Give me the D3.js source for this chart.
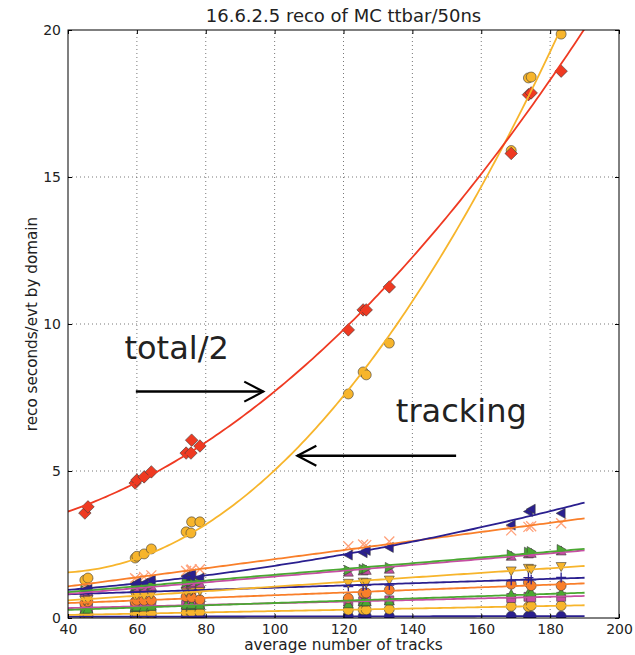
<!DOCTYPE html>
<html>
<head>
<meta charset="utf-8">
<script src="https://cdn.jsdelivr.net/npm/d3@7/dist/d3.min.js"></script>
<style>
  body { margin: 0; background: #fff; }
  text { font-family: "DejaVu Sans", sans-serif; fill: #222; }
</style>
</head>
<body>
<div id="chart"></div>
<script>
// average number of tracks for each sample
const tracks = [44.9, 45.8, 59.5, 60.0, 62.1, 64.2, 74.3, 75.7, 75.9, 78.3, 121.4, 125.7, 126.6, 133.3, 168.7, 173.7, 174.5, 183.2];

// reco seconds/evt per domain
const total2       = [3.57, 3.78, 4.59, 4.69, 4.80, 4.97, 5.61, 5.61, 6.05, 5.85, 9.80, 10.48, 10.48, 11.26, 15.80, 17.80, 17.86, 18.60];
const tracking     = [1.29, 1.36, 2.04, 2.10, 2.18, 2.35, 2.93, 2.89, 3.27, 3.27, 7.62, 8.37, 8.27, 9.35, 15.90, 18.37, 18.40, 19.86];
const navyLeft     = [0.95, 0.98, 1.15, 1.20, 1.18, 1.30, 1.42, 1.40, 1.50, 1.36, 2.14, 2.22, 2.30, 2.40, 3.16, 3.62, 3.70, 3.56];
const orangeX      = [1.10, 1.18, 1.35, 1.30, 1.40, 1.45, 1.60, 1.62, 1.65, 1.66, 2.44, 2.50, 2.48, 2.60, 2.98, 3.10, 3.12, 3.22];
const greenRight   = [0.95, 1.00, 1.08, 1.10, 1.10, 1.12, 1.20, 1.22, 1.25, 1.25, 1.62, 1.66, 1.68, 1.72, 2.15, 2.24, 2.26, 2.33];
const magentaUp    = [0.88, 0.90, 1.02, 1.05, 1.05, 1.08, 1.15, 1.16, 1.20, 1.18, 1.56, 1.60, 1.62, 1.66, 2.10, 2.18, 2.20, 2.28];
const yellowDown   = [0.60, 0.62, 0.75, 0.78, 0.76, 0.80, 0.90, 0.92, 0.95, 0.92, 1.18, 1.22, 1.20, 1.29, 1.60, 1.69, 1.66, 1.75];
const navyPlus     = [0.82, 0.84, 0.88, 0.90, 0.88, 0.90, 0.94, 0.96, 0.95, 0.97, 1.07, 1.10, 1.12, 1.12, 1.26, 1.37, 1.30, 1.38];
const orangeCircle = [0.50, 0.55, 0.55, 0.60, 0.60, 0.60, 0.72, 0.85, 0.70, 0.62, 0.67, 0.85, 0.85, 0.95, 1.15, 1.21, 1.10, 1.10];
const greenUp      = [0.28, 0.30, 0.36, 0.38, 0.37, 0.40, 0.44, 0.42, 0.46, 0.44, 0.48, 0.55, 0.55, 0.58, 0.81, 0.84, 0.86, 0.85];
const magentaSq    = [0.32, 0.33, 0.38, 0.40, 0.40, 0.42, 0.44, 0.46, 0.45, 0.46, 0.55, 0.57, 0.58, 0.60, 0.68, 0.72, 0.70, 0.72];
const yellowCircle = [0.10, 0.12, 0.14, 0.15, 0.15, 0.16, 0.18, 0.19, 0.20, 0.20, 0.27, 0.28, 0.28, 0.30, 0.40, 0.38, 0.42, 0.42];
const navyCircle   = [0.04, 0.04, 0.05, 0.05, 0.05, 0.05, 0.05, 0.05, 0.05, 0.05, 0.06, 0.06, 0.06, 0.06, 0.06, 0.06, 0.06, 0.06];

const xTicks = [40, 60, 80, 100, 120, 140, 160, 180, 200];
const yTicks = [0, 5, 10, 15, 20];

// series: values, colour, marker, fit degree
const series = [
  { v: navyCircle,   c: '#2a1f8f', m: 'circle', deg: 1 },
  { v: yellowCircle, c: '#f7b52c', m: 'circle', deg: 1 },
  { v: magentaSq,    c: '#c64ea3', m: 'square', deg: 1 },
  { v: greenUp,      c: '#4aa832', m: 'up',     deg: 1 },
  { v: orangeCircle, c: '#f97f2a', m: 'circle', deg: 1 },
  { v: navyPlus,     c: '#2a1f8f', m: 'plus',   deg: 1 },
  { v: yellowDown,   c: '#f7b52c', m: 'down',   deg: 1 },
  { v: magentaUp,    c: '#c64ea3', m: 'up',     deg: 1 },
  { v: greenRight,   c: '#4aa832', m: 'right',  deg: 1 },
  { v: orangeX,      c: '#f97f2a', m: 'x',      deg: 1 },
  { v: navyLeft,     c: '#2a1f8f', m: 'left',   deg: 2 },
  { v: tracking,     c: '#f7b52c', m: 'circle', deg: 2 },
  { v: total2,       c: '#ef3a22', m: 'diamond', deg: 2 }
];

const width = 635, height = 655;
const margin = { left: 68, right: 16, top: 30, bottom: 37 };

const svg = d3.select('#chart').append('svg')
  .attr('width', width)
  .attr('height', height);

const x = d3.scaleLinear().domain([40, 200]).range([margin.left, width - margin.right]);
const y = d3.scaleLinear().domain([0, 20]).range([height - margin.bottom, margin.top]);

svg.append('clipPath').attr('id', 'plot')
  .append('rect')
  .attr('x', x(40)).attr('y', y(20))
  .attr('width', x(200) - x(40)).attr('height', y(0) - y(20));

// grid
const grid = svg.append('g');
grid.selectAll('.gx').data(xTicks.slice(1, -1)).enter().append('line')
  .attr('x1', d => x(d)).attr('x2', d => x(d))
  .attr('y1', y(0)).attr('y2', y(20))
  .attr('stroke', '#555').attr('stroke-width', 0.8).attr('stroke-dasharray', '1,3');
grid.selectAll('.gy').data(yTicks.slice(1, -1)).enter().append('line')
  .attr('x1', x(40)).attr('x2', x(200))
  .attr('y1', d => y(d)).attr('y2', d => y(d))
  .attr('stroke', '#555').attr('stroke-width', 0.8).attr('stroke-dasharray', '1,3');

// least squares polynomial fit
function polyfit(xs, ys, deg) {
  const n = deg + 1;
  const A = Array.from({ length: n }, () => new Array(n + 1).fill(0));
  xs.forEach((xv, k) => {
    const t = (xv - 100) / 50;
    for (let i = 0; i < n; i++) {
      for (let j = 0; j < n; j++) A[i][j] += Math.pow(t, i + j);
      A[i][n] += Math.pow(t, i) * ys[k];
    }
  });
  for (let i = 0; i < n; i++) {
    let p = i;
    for (let r = i + 1; r < n; r++) if (Math.abs(A[r][i]) > Math.abs(A[p][i])) p = r;
    [A[i], A[p]] = [A[p], A[i]];
    for (let r = 0; r < n; r++) {
      if (r === i) continue;
      const f = A[r][i] / A[i][i];
      for (let c = i; c <= n; c++) A[r][c] -= f * A[i][c];
    }
  }
  const coef = A.map((row, i) => row[n] / row[i]);
  return xv => {
    const t = (xv - 100) / 50;
    return coef.reduce((s, c, i) => s + c * Math.pow(t, i), 0);
  };
}

function markerPath(m, s) {
  const h = s / 2;
  switch (m) {
    case 'circle': return d3.symbol(d3.symbolCircle, Math.PI * h * h)();
    case 'square': return d3.symbol(d3.symbolSquare, s * s * 0.8)();
    case 'diamond': { const r = h * 1.25; return `M0,${-r}L${r},0L0,${r}L${-r},0Z`; }
    case 'up': return `M0,${-h}L${h},${h * 0.8}L${-h},${h * 0.8}Z`;
    case 'down': return `M0,${h}L${h},${-h * 0.8}L${-h},${-h * 0.8}Z`;
    case 'left': return `M${-h},0L${h * 0.8},${-h}L${h * 0.8},${h}Z`;
    case 'right': return `M${h},0L${-h * 0.8},${-h}L${-h * 0.8},${h}Z`;
    case 'plus': return `M${-h},0L${h},0M0,${-h}L0,${h}`;
    case 'x': return `M${-h},${-h}L${h},${h}M${-h},${h}L${h},${-h}`;
  }
}

const plot = svg.append('g').attr('clip-path', 'url(#plot)');

// markers
series.forEach(s => {
  const stroked = s.m === 'plus' || s.m === 'x';
  plot.append('g').selectAll('path')
    .data(tracks.map((t, i) => [t, s.v[i]]))
    .enter().append('path')
    .attr('transform', d => `translate(${x(d[0])},${y(d[1])})`)
    .attr('d', markerPath(s.m, 10))
    .attr('fill', stroked ? 'none' : s.c)
    .attr('stroke', stroked ? (s.m === 'x' ? '#ffa17a' : s.c) : '#3a3a3a')
    .attr('stroke-width', stroked ? 1.3 : 0.6);
});

// fit curves
const fitX = d3.range(40, 190.01, 1);
const line = d3.line().x(d => x(d[0])).y(d => y(d[1]));
series.forEach(s => {
  const f = polyfit(tracks, s.v, s.deg);
  plot.append('path')
    .attr('d', line(fitX.map(t => [t, f(t)])))
    .attr('fill', 'none')
    .attr('stroke', s.c)
    .attr('stroke-width', 1.8);
});

// frame
svg.append('rect')
  .attr('x', x(40)).attr('y', y(20))
  .attr('width', x(200) - x(40)).attr('height', y(0) - y(20))
  .attr('fill', 'none').attr('stroke', '#000').attr('stroke-width', 1);

// axes with inward ticks on all sides
svg.append('g').attr('transform', `translate(0,${y(0)})`)
  .call(d3.axisBottom(x).tickValues(xTicks).tickSizeInner(-4).tickSizeOuter(0).tickPadding(6))
  .call(g => g.select('.domain').remove())
  .call(g => g.selectAll('text').style('font-size', '14px').attr('fill', '#222'));
svg.append('g').attr('transform', `translate(0,${y(20)})`)
  .call(d3.axisTop(x).tickValues(xTicks).tickSizeInner(-4).tickSizeOuter(0).tickFormat(''))
  .call(g => g.select('.domain').remove());
svg.append('g').attr('transform', `translate(${x(40)},0)`)
  .call(d3.axisLeft(y).tickValues(yTicks).tickSizeInner(-4).tickSizeOuter(0).tickPadding(7))
  .call(g => g.select('.domain').remove())
  .call(g => g.selectAll('text').style('font-size', '14px').attr('fill', '#222'));
svg.append('g').attr('transform', `translate(${x(200)},0)`)
  .call(d3.axisRight(y).tickValues(yTicks).tickSizeInner(-4).tickSizeOuter(0).tickFormat(''))
  .call(g => g.select('.domain').remove());

// labels
svg.append('text')
  .attr('x', (x(40) + x(200)) / 2).attr('y', 22)
  .attr('text-anchor', 'middle').style('font-size', '18px')
  .text('16.6.2.5 reco of MC ttbar/50ns');
svg.append('text')
  .attr('x', (x(40) + x(200)) / 2).attr('y', 650)
  .attr('text-anchor', 'middle').style('font-size', '15.3px')
  .text('average number of tracks');
svg.append('text')
  .attr('transform', `translate(37,${(y(0) + y(20)) / 2}) rotate(-90)`)
  .attr('text-anchor', 'middle').style('font-size', '15.2px')
  .text('reco seconds/evt by domain');

// annotations
const notes = [
  { text: 'total/2', tx: 56.4, ty: 8.81, from: [59.7, 7.70], to: [96.7, 7.70] },
  { text: 'tracking', tx: 135.2, ty: 6.67, from: [152.7, 5.52], to: [106.6, 5.52] }
];
notes.forEach(n => {
  svg.append('text')
    .attr('x', x(n.tx)).attr('y', y(n.ty))
    .style('font-size', '32px').attr('fill', '#000')
    .text(n.text);
  const x0 = x(n.from[0]), x1 = x(n.to[0]), yy = y(n.to[1]);
  const dir = Math.sign(x1 - x0);
  svg.append('line')
    .attr('x1', x0).attr('x2', x1).attr('y1', yy).attr('y2', yy)
    .attr('stroke', '#000').attr('stroke-width', 2.5);
  svg.append('path')
    .attr('d', `M${x1 - dir * 19},${yy - 10}L${x1},${yy}L${x1 - dir * 19},${yy + 10}`)
    .attr('fill', 'none').attr('stroke', '#000').attr('stroke-width', 2.2);
});
</script>
</body>
</html>
